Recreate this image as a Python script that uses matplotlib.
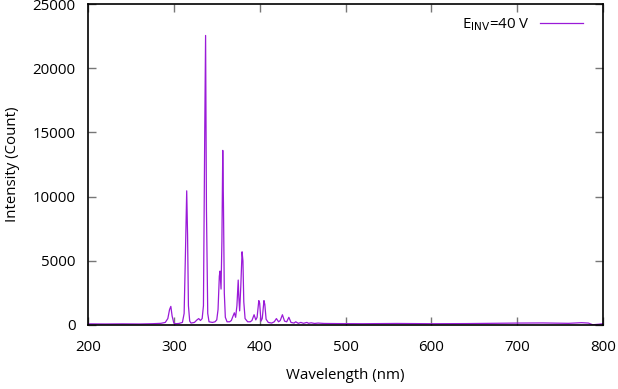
import numpy as np
import matplotlib.pyplot as plt

plt.rcParams['font.family'] = ['Open Sans', 'DejaVu Sans']

# spectrum points (nm, counts)
wavelength = [200, 220, 240, 260, 275, 285, 290, 293, 295, 296.5, 298, 300, 302,
              306, 310, 312, 313.5, 315, 316, 317, 318.5, 320, 324, 327, 329, 331,
              333, 334.5, 336, 337, 338, 339.5, 341, 345, 348, 350, 351.5, 353,
              353.8, 355, 356, 357, 357.8, 358.8, 360, 362, 365, 367, 369, 370.5,
              372, 373.5, 375, 375.7, 376.7, 378, 379.5, 380.5, 381.5, 383, 386,
              389, 391, 393.5, 395.5, 397, 399, 400, 401.5, 403, 405, 406, 407.5,
              410, 414, 417, 419.5, 422, 424, 426.5, 429, 431.5, 434, 436.5, 440,
              442, 445, 448, 451, 455, 457, 460, 464, 468, 475, 490, 520, 560, 600,
              640, 670, 700, 730, 760, 775, 783, 788, 795, 800]
intensity = [90, 80, 90, 80, 100, 130, 200, 500, 1200, 1450, 700, 150, 100,
             120, 200, 900, 5500, 10450, 7000, 1500, 300, 150, 200, 400, 500, 350,
             500, 1500, 15000, 22550, 9000, 900, 250, 200, 250, 400, 1200, 3800,
             4200, 2800, 6500, 13600, 9500, 2500, 600, 250, 250, 350, 700, 950,
             600, 1500, 3500, 2200, 1100, 3000, 5700, 5000, 1800, 500, 250,
             250, 350, 800, 400, 600, 1900, 1700, 300, 500, 1900, 1600, 450,
             200, 150, 250, 500, 250, 350, 800, 300, 250, 600, 200, 150,
             250, 130, 200, 130, 200, 130, 170, 120, 150, 120, 110, 100, 120, 100,
             110, 130, 150, 160, 130, 180, 150, 20, 60, 100]

series_label = r'E$_{\mathrm{INV}}$=40 V'
xticks = [200, 300, 400, 500, 600, 700, 800]
yticks = [0, 5000, 10000, 15000, 20000, 25000]

fig = plt.figure(figsize=(6.18, 3.89), dpi=100)
ax = fig.add_axes([88/618, 1 - 325/389, 515/618, 321/389])

ax.plot(wavelength, intensity, color='#9a1ad8', lw=0.9, label=series_label)

ax.set_xlim(200, 800)
ax.set_ylim(0, 25000)
ax.set_xticks(xticks)
ax.set_yticks(yticks)
ax.tick_params(direction='in', length=6, width=1, color='#777777',
               top=True, right=True, labelsize=10.8)
ax.tick_params(axis='x', pad=11)
ax.tick_params(axis='y', pad=9)
for s in ax.spines.values():
    s.set_linewidth(1.2)
    s.set_color('black')

ax.set_xlabel('Wavelength (nm)', fontsize=10.8, labelpad=9)
ax.set_ylabel('Intensity (Count)', fontsize=10.8, labelpad=9)

ax.legend(loc='upper right', bbox_to_anchor=(0.985, 1.0), frameon=False,
          markerfirst=False, fontsize=10.8, handlelength=2.9,
          handletextpad=0.7, borderaxespad=0.4)

fig.savefig('out.png', dpi=100)
